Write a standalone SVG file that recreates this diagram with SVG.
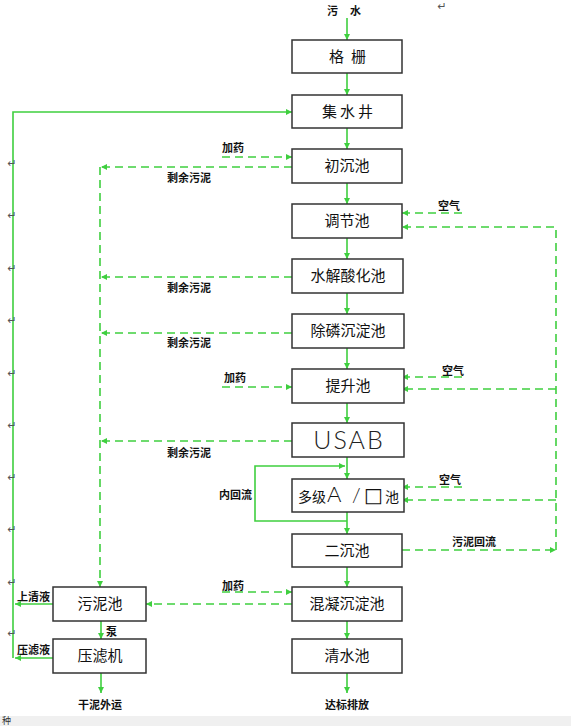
<svg xmlns="http://www.w3.org/2000/svg" width="571" height="726" viewBox="0 0 571 726">
<style>
.bx{fill:#fff;stroke:#333;stroke-width:1.5}
.bt{font-family:"Noto Sans CJK SC","Noto Sans",sans-serif;font-size:15px;fill:#111;text-anchor:middle}
.lb{font-family:"Noto Sans CJK SC","Noto Sans",sans-serif;font-size:11px;font-weight:bold;fill:#111}
.s{fill:none;stroke:#3fcf3f;stroke-width:1.6}
.d{fill:none;stroke:#3fcf3f;stroke-width:1.6;stroke-dasharray:8 5}
.pm{font-family:"DejaVu Sans",sans-serif;font-size:11px;fill:#555;text-anchor:middle}
.thin{font-family:Lato,"Liberation Sans",sans-serif;font-weight:300}
</style>
<defs>
<marker id="ah" viewBox="0 0 10 10" refX="10" refY="5" markerWidth="7" markerHeight="6" markerUnits="userSpaceOnUse" orient="auto"><path d="M0,0 L10,5 L0,10 z" fill="#3fcf3f"/></marker>
</defs>
<rect x="0" y="0" width="571" height="726" fill="#fff"/>
<g id="connectors">
<path class="s" d="M347,18 V40" marker-end="url(#ah)"/>
<path class="s" d="M347,73 V95" marker-end="url(#ah)"/>
<path class="s" d="M347,128 V149" marker-end="url(#ah)"/>
<path class="s" d="M347,183 V204" marker-end="url(#ah)"/>
<path class="s" d="M347,238 V259" marker-end="url(#ah)"/>
<path class="s" d="M347,293 V314" marker-end="url(#ah)"/>
<path class="s" d="M347,348 V369" marker-end="url(#ah)"/>
<path class="s" d="M347,403 V423" marker-end="url(#ah)"/>
<path class="s" d="M347,457 V479" marker-end="url(#ah)"/>
<path class="s" d="M347,512 V534" marker-end="url(#ah)"/>
<path class="s" d="M347,567 V587" marker-end="url(#ah)"/>
<path class="s" d="M347,621 V639" marker-end="url(#ah)"/>
<path class="s" d="M347,673 V693" marker-end="url(#ah)"/>
<path class="s" d="M347,521 H255 V466 H345" marker-end="url(#ah)"/>
<path class="s" d="M13,658 V112 H292" marker-end="url(#ah)"/>
<path class="s" d="M53,604 H15" marker-end="url(#ah)"/>
<path class="s" d="M53,658 H15" marker-end="url(#ah)"/>
<path class="s" d="M101,621 V639" marker-end="url(#ah)"/>
<path class="s" d="M101,673 V693" marker-end="url(#ah)"/>
<path class="d" d="M292,167 H101" marker-end="url(#ah)"/>
<path class="d" d="M292,277 H101" marker-end="url(#ah)"/>
<path class="d" d="M292,333 H101" marker-end="url(#ah)"/>
<path class="d" d="M292,441 H101" marker-end="url(#ah)"/>
<path class="d" d="M100,167 V587" marker-end="url(#ah)"/>
<path class="d" d="M292,604 H146" marker-end="url(#ah)"/>
<path class="d" d="M222,157 H292" marker-end="url(#ah)"/>
<path class="d" d="M222,387 H292" marker-end="url(#ah)"/>
<path class="d" d="M222,592 H292" marker-end="url(#ah)"/>
<path class="d" d="M462,213 H402" marker-end="url(#ah)"/>
<path class="d" d="M462,377 H402" marker-end="url(#ah)"/>
<path class="d" d="M462,487 H402" marker-end="url(#ah)"/>
<path class="d" d="M402,550 H556" marker-end="url(#ah)"/>
<path class="d" d="M556,550 V227 H402" marker-end="url(#ah)"/>
<path class="d" d="M556,389 H402" marker-end="url(#ah)"/>
<path class="d" d="M556,500 H402" marker-end="url(#ah)"/>
</g>
<g id="n-geshan"><rect class="bx" x="292" y="40" width="110" height="33"/><text class="bt" x="351" y="62" letter-spacing="7">格栅</text></g>
<g id="n-jishuijing"><rect class="bx" x="292" y="95" width="110" height="33"/><text class="bt" x="349" y="117" letter-spacing="3">集水井</text></g>
<g id="n-chuchenchi"><rect class="bx" x="292" y="149" width="110" height="34"/><text class="bt" x="347" y="171">初沉池</text></g>
<g id="n-tiaojiechi"><rect class="bx" x="292" y="204" width="110" height="34"/><text class="bt" x="347" y="226">调节池</text></g>
<g id="n-shuijie"><rect class="bx" x="292" y="259" width="111" height="34"/><text class="bt" x="348" y="281">水解酸化池</text></g>
<g id="n-chulin"><rect class="bx" x="292" y="314" width="112" height="34"/><text class="bt" x="348" y="336">除磷沉淀池</text></g>
<g id="n-tishengchi"><rect class="bx" x="292" y="369" width="112" height="34"/><text class="bt" x="348" y="391">提升池</text></g>
<g id="n-usab"><rect class="bx" x="292" y="423" width="112" height="34"/><text class="thin" x="349" y="449" font-size="25" fill="#222" text-anchor="middle" letter-spacing="2">USAB</text></g>
<g id="n-ao"><rect class="bx" x="292" y="479" width="112" height="33"/><text y="502" fill="#111"><tspan x="298" font-family="Noto Sans CJK SC,sans-serif" font-size="14">多级</tspan><tspan x="327" class="thin" font-size="22">A</tspan><tspan x="352" class="thin" font-size="20">/</tspan><tspan x="364" font-family="DejaVu Sans,sans-serif" font-size="20">□</tspan><tspan x="385" font-family="Noto Sans CJK SC,sans-serif" font-size="14">池</tspan></text></g>
<g id="n-erchenchi"><rect class="bx" x="292" y="534" width="110" height="33"/><text class="bt" x="347" y="556">二沉池</text></g>
<g id="n-hunning"><rect class="bx" x="292" y="587" width="110" height="34"/><text class="bt" x="347" y="609">混凝沉淀池</text></g>
<g id="n-qingshuichi"><rect class="bx" x="292" y="639" width="110" height="34"/><text class="bt" x="347" y="661">清水池</text></g>
<g id="n-wunichi"><rect class="bx" x="53" y="587" width="93" height="34"/><text class="bt" x="100" y="609">污泥池</text></g>
<g id="n-yalvji"><rect class="bx" x="53" y="639" width="93" height="34"/><text class="bt" x="100" y="661">压滤机</text></g>
<g id="labels">
<text class="lb" x="327" y="15">污</text>
<text class="lb" x="350" y="15">水</text>
<text class="lb" x="222" y="152">加药</text>
<text class="lb" x="167" y="182">剩余污泥</text>
<text class="lb" x="167" y="292">剩余污泥</text>
<text class="lb" x="167" y="347">剩余污泥</text>
<text class="lb" x="224" y="382">加药</text>
<text class="lb" x="167" y="457">剩余污泥</text>
<text class="lb" x="219" y="499">内回流</text>
<text class="lb" x="438" y="210">空气</text>
<text class="lb" x="442" y="375">空气</text>
<text class="lb" x="439" y="484">空气</text>
<text class="lb" x="452" y="546">污泥回流</text>
<text class="lb" x="222" y="590">加药</text>
<text class="lb" x="17" y="601">上清液</text>
<text class="lb" x="17" y="654">压滤液</text>
<text class="lb" x="106" y="636">泵</text>
<text class="lb" x="78" y="709">干泥外运</text>
<text class="lb" x="325" y="709">达标排放</text>
</g>
<g id="marks">
<text class="pm" x="442" y="10" fill="#999">↵</text>
<text class="pm" x="12" y="167">↵</text>
<text class="pm" x="12" y="219">↵</text>
<text class="pm" x="12" y="272">↵</text>
<text class="pm" x="12" y="324">↵</text>
<text class="pm" x="12" y="377">↵</text>
<text class="pm" x="12" y="429">↵</text>
<text class="pm" x="12" y="481">↵</text>
<text class="pm" x="12" y="533">↵</text>
<text class="pm" x="12" y="586">↵</text>
<text class="pm" x="12" y="637">↵</text>
</g>
<rect x="0" y="716" width="571" height="10" fill="#f0f0f0"/>
<text x="2" y="724" font-family="Noto Sans CJK SC,sans-serif" font-size="9" fill="#333">种</text>
</svg>
